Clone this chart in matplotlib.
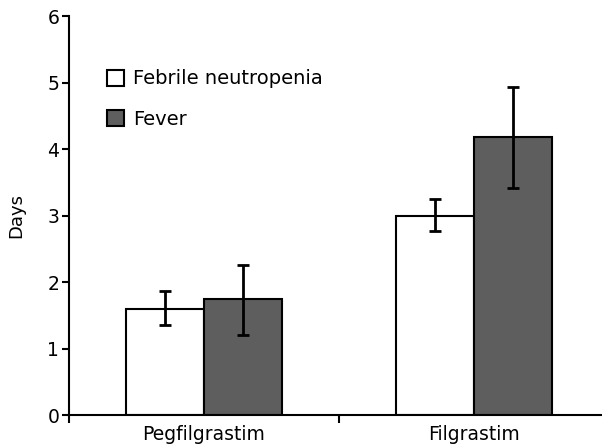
import numpy as np
import matplotlib.pyplot as plt

plt.rcParams['font.family'] = ['DejaVu Sans']

groups = ['Pegfilgrastim', 'Filgrastim']
series = ['Febrile neutropenia', 'Fever']
means = [[1.60, 3.00],   # febrile neutropenia
         [1.75, 4.18]]   # fever
lower = [[1.35, 2.77],
         [1.20, 3.42]]
upper = [[1.86, 3.25],
         [2.26, 4.93]]
colours = ['white', '#5e5e5e']

fig = plt.figure(figsize=(6.02, 4.44), dpi=100)
ax = fig.add_axes([0.1146, 0.0653, 0.8854, 0.8986])

x = np.arange(len(groups))
w = 0.29
for i in range(len(series)):
    m = np.array(means[i])
    err = [m - np.array(lower[i]), np.array(upper[i]) - m]
    pos = x + (i - 0.5) * w
    ax.bar(pos, m, width=w, color=colours[i], edgecolor='black', linewidth=1.5,
           label=series[i], zorder=2)
    ax.errorbar(pos, m, yerr=err, fmt='none', ecolor='black', elinewidth=2,
                capsize=4.5, capthick=2, zorder=3)

ax.set_xlim(-0.5, 1.474)
ax.set_ylim(0, 6)
ax.set_yticks(range(7))
ax.set_xticks([-0.5, 0.5], labels=[], minor=False)
ax.set_xticks(x, labels=groups, minor=True)
ax.tick_params(axis='x', which='minor', length=0, labelsize=13.5, pad=7)
ax.tick_params(axis='x', which='major', length=6, width=1.5)
ax.tick_params(axis='y', length=5, width=1.5, labelsize=13.5, pad=2)
ax.spines['top'].set_visible(False)
ax.spines['right'].set_visible(False)
ax.spines['left'].set_linewidth(1.5)
ax.spines['bottom'].set_linewidth(1.5)
ax.set_ylabel('Days', fontsize=13, labelpad=16)

ax.legend(loc='upper left', bbox_to_anchor=(0.0713, 0.866), frameon=False,
          fontsize=14, handlelength=0.87, handleheight=0.87, handletextpad=0.45,
          labelspacing=1.1, borderpad=0, borderaxespad=0)

fig.savefig('out.png', dpi=100)
